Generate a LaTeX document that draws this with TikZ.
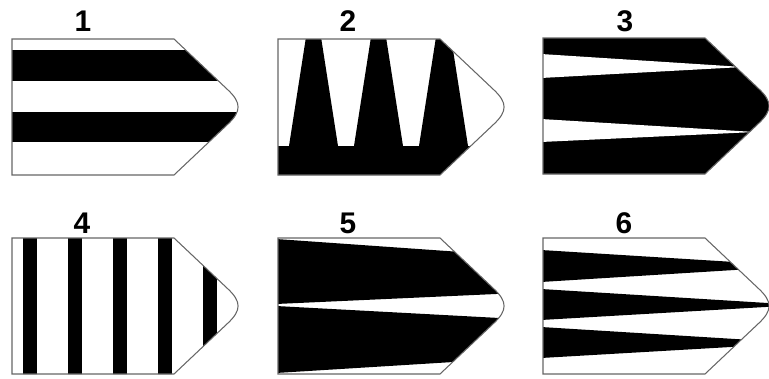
\documentclass[tikz,border=0pt]{standalone}
\usepackage{fontspec}
\setmainfont{Liberation Sans}

\tikzset{
  num/.style={font=\fontsize{17}{19}\selectfont\bfseries, inner sep=0pt},
  rim/.style={draw=black!60, line width=0.6pt},
}
% outline of one bullet, local coordinates (pixels, y down)
\newcommand{\bulletpath}{(0,0) -- (162,0) -- (215.8,50.8) .. controls (229.5,63.7) and (229.5,72.3) .. (215.8,85.2) -- (162,136) -- (0,136) -- cycle}

\begin{document}
\begin{tikzpicture}[x=0.02cm, y=-0.02cm]
    \useasboundingbox (0,0) rectangle (769,379);

    % Numbers
    \node[num] (n1) at (83,21) {1};
    \node[num] (n2) at (348,21) {2};
    \node[num] (n3) at (625,21) {3};
    \node[num] (n4) at (82,223) {4};
    \node[num] (n5) at (348,223) {5};
    \node[num] (n6) at (624,223) {6};

    % Bullet 1 (horizontal bands)
    \begin{scope}[shift={(12,39)}]
        \begin{scope}
            \clip \bulletpath;
            \fill (-2,11) rectangle (240,42);
            \fill (-2,73) rectangle (240,103);
        \end{scope}
        \draw[rim] \bulletpath;
    \end{scope}

    % Bullet 2 (teeth on a bottom band)
    \begin{scope}[shift={(278,39)}]
        \begin{scope}
            \clip \bulletpath;
            \fill (-2,107) rectangle (240,140);
            \foreach \k in {0,1,2}
                \fill ({28+65*\k},-2) -- ({43+65*\k},-2) -- ({60+65*\k},107) -- ({11+65*\k},107) -- cycle;
        \end{scope}
        \draw[rim] \bulletpath;
    \end{scope}

    % Bullet 3 (black with two white wedges)
    \begin{scope}[shift={(543,38)}]
        \begin{scope}
            \clip \bulletpath;
            \fill (-2,-2) rectangle (240,140);
            \fill[white] (-2,16) -- (200,29) -- (-2,40) -- cycle;
            \fill[white] (-2,81) -- (212,94) -- (-2,104) -- cycle;
        \end{scope}
        \draw[rim] \bulletpath;
    \end{scope}

    % Bullet 4 (vertical bars)
    \begin{scope}[shift={(12,238)}]
        \begin{scope}
            \clip \bulletpath;
            \foreach \k in {0,...,4}
                \fill ({11+45*\k},-2) rectangle ({24.5+45*\k},140);
        \end{scope}
        \draw[rim] \bulletpath;
    \end{scope}

    % Bullet 5 (two wide wedges)
    \begin{scope}[shift={(278,238)}]
        \begin{scope}
            \clip \bulletpath;
            \fill (-2,1) -- (240,18) -- (240,55) -- (-2,66) -- cycle;
            \fill (-2,68) -- (240,81) -- (240,120) -- (-2,135) -- cycle;
        \end{scope}
        \draw[rim] \bulletpath;
    \end{scope}

    % Bullet 6 (three narrow wedges)
    \begin{scope}[shift={(543,238)}]
        \begin{scope}
            \clip \bulletpath;
            \fill (-2,12) -- (256,28) -- (-2,44) -- cycle;
            \fill (-2,51) -- (257,67) -- (-2,82) -- cycle;
            \fill (-2,89) -- (257,105) -- (-2,120) -- cycle;
        \end{scope}
        \draw[rim] \bulletpath;
    \end{scope}
\end{tikzpicture}
\end{document}
